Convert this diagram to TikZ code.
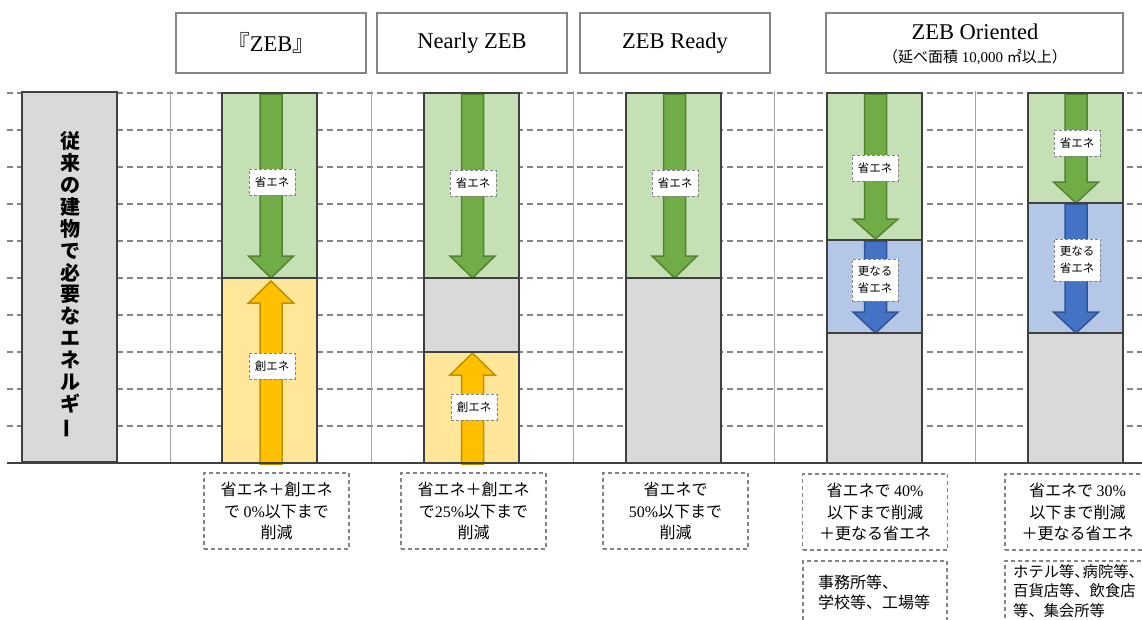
\documentclass[tikz,border=0pt]{standalone}
\usepackage{fontspec}
\usepackage{graphicx}
\setmainfont{Liberation Serif}
\newfontfamily\cjk{Noto Sans CJK JP}
\definecolor{gfill}{HTML}{C5E0B4}
\definecolor{garrow}{HTML}{70AD47}
\definecolor{gedge}{HTML}{548235}
\definecolor{yfill}{HTML}{FFE699}
\definecolor{yarrow}{HTML}{FFC000}
\definecolor{yedge}{HTML}{BF9000}
\definecolor{bfill}{HTML}{B4C7E7}
\definecolor{barrow}{HTML}{4472C4}
\definecolor{bedge}{HTML}{2F5597}
\definecolor{grayfill}{HTML}{D9D9D9}
\definecolor{darkline}{HTML}{404040}
\definecolor{midline}{HTML}{858585}
\definecolor{gridline}{HTML}{A6A6A6}
\newcommand{\blockarrow}[5]{%
  \draw[#1] ({#2-11},#3) -- ({#2+11},#3) -- ({#2+11},#5) -- ({#2+22.5},#5)
    -- (#2,#4) -- ({#2-22.5},#5) -- ({#2-11},#5) -- cycle;}
\tikzset{
  dashgrid/.style={draw=midline, line width=1.2pt, dash pattern=on 6pt off 4pt},
  vgrid/.style={draw=gridline, line width=1pt},
  barline/.style={draw=darkline, line width=2.5pt},
  hdr/.style={draw=midline, line width=2.5pt, fill=white, inner sep=0pt,
    font=\fontsize{22.5}{26}\selectfont},
  lbl/.style={draw=midline, dashed, dash pattern=on 3pt off 2pt, line width=1pt,
    fill=white, inner sep=1pt, minimum width=46pt, minimum height=26pt,
    align=center, font=\cjk\fontsize{11.5}{17}\selectfont},
  note/.style={draw=midline, line width=1.1pt, dash pattern=on 4pt off 3pt,
    inner sep=0pt, align=center, font=\cjk\fontsize{16}{21.5}\selectfont},
  notetext/.style={inner sep=0pt, align=left, anchor=west},
  gar/.style={fill=garrow, draw=gedge, line width=1.5pt},
  yar/.style={fill=yarrow, draw=yedge, line width=1.5pt},
  bar/.style={fill=barrow, draw=bedge, line width=1.5pt},
}
\begin{document}
\begin{tikzpicture}[x=1pt,y=-1pt]
\useasboundingbox (0,0) rectangle (1142,619);
\clip (0,0) rectangle (1142,619);
\fill[white] (0,0) rectangle (1142,619);

% grid
\foreach \y in {93,130,...,426} \draw[dashgrid] (7,\y) -- (1142,\y);
\foreach \x in {170,371,573,774,975} \draw[vgrid] (\x,91) -- (\x,463);

% headers
\node[hdr, minimum width=190pt, minimum height=60pt] (h1) at (271,43) {{\cjk 『}ZEB{\cjk 』}};
\node[hdr, minimum width=190pt, minimum height=60pt] (h2) at (472,43) {Nearly ZEB};
\node[hdr, minimum width=190pt, minimum height=60pt] (h3) at (675,43) {ZEB Ready};
\node[hdr, minimum width=297pt, minimum height=60pt] (h4) at (974.5,43) {};
\node[inner sep=0pt, font=\fontsize{22.5}{26}\selectfont] (h4a) at (975,32) {ZEB Oriented};
\node[inner sep=0pt, font=\fontsize{15}{18}\selectfont] (h4b) at (975,57) {{\cjk （延べ面積} 10,000 {\cjk ㎡以上）}};

% reference bar
\node[fill=grayfill, draw=darkline, line width=2.5pt, minimum width=95pt, minimum height=370pt, inner sep=0pt] (base) at (69.5,277) {};
\node[inner sep=0pt, align=center, font=\cjk\bfseries\fontsize{20}{21.9}\selectfont] (baset) at (70,285)
 {従\\来\\の\\建\\物\\で\\必\\要\\な\\エ\\ネ\\ル\\ギ\\\rotatebox[origin=c]{90}{ー}};

% bar fills
\fill[gfill] (222,93) rectangle (317,278);
\fill[yfill] (222,278) rectangle (317,463);
\fill[gfill] (424,93) rectangle (519,278);
\fill[grayfill] (424,278) rectangle (519,352);
\fill[yfill] (424,352) rectangle (519,463);
\fill[gfill] (626,93) rectangle (721,278);
\fill[grayfill] (626,278) rectangle (721,463);
\fill[gfill] (827,93) rectangle (922,240);
\fill[bfill] (827,240) rectangle (922,333);
\fill[grayfill] (827,333) rectangle (922,463);
\fill[gfill] (1028,93) rectangle (1123,203);
\fill[bfill] (1028,203) rectangle (1123,333);
\fill[grayfill] (1028,333) rectangle (1123,463);

% arrows
\blockarrow{gar}{271}{94}{278}{256}
\blockarrow{yar}{271}{464}{281}{303}
\blockarrow{gar}{472.5}{94}{278}{256}
\blockarrow{yar}{472.5}{464}{353}{375}
\blockarrow{gar}{674.5}{94}{278}{256}
\blockarrow{gar}{875.5}{94}{239}{219}
\blockarrow{bar}{875.5}{241}{333}{312}
\blockarrow{gar}{1076}{94}{203}{182}
\blockarrow{bar}{1076}{204}{333}{312}

% bar outlines
\draw[barline] (222,93) rectangle (317,463);
\draw[barline] (222,278) -- (317,278);
\draw[barline] (424,93) rectangle (519,463);
\draw[barline] (424,278) -- (519,278);
\draw[barline] (424,352) -- (519,352);
\draw[barline] (626,93) rectangle (721,463);
\draw[barline] (626,278) -- (721,278);
\draw[barline] (827,93) rectangle (922,463);
\draw[barline] (827,240) -- (922,240);
\draw[barline] (827,333) -- (922,333);
\draw[barline] (1028,93) rectangle (1123,463);
\draw[barline] (1028,203) -- (1123,203);
\draw[barline] (1028,333) -- (1123,333);

% baseline
\draw[barline] (7,463) -- (1142,463);

% arrow labels
\node[lbl] (l1a) at (272,182) {省エネ};
\node[lbl] (l1b) at (272,366) {創エネ};
\node[lbl] (l2a) at (473,183) {省エネ};
\node[lbl] (l2b) at (474,407) {創エネ};
\node[lbl] (l3a) at (675,183) {省エネ};
\node[lbl] (l4a) at (875,168) {省エネ};
\node[lbl, minimum height=42pt] (l4b) at (875,280) {更なる\\省エネ};
\node[lbl] (l5a) at (1077,143) {省エネ};
\node[lbl, minimum height=42pt] (l5b) at (1077,260) {更なる\\省エネ};

% notes
\node[note, minimum width=145pt, minimum height=76pt] (n1) at (276.5,511)
 {省エネ＋創エネ\\で {\rmfamily 0\%}以下まで\\削減};
\node[note, minimum width=145pt, minimum height=76pt] (n2) at (473.5,511)
 {省エネ＋創エネ\\で{\rmfamily 25\%}以下まで\\削減};
\node[note, minimum width=145pt, minimum height=76pt] (n3) at (675.5,511)
 {省エネで\\{\rmfamily 50\%}以下まで\\削減};
\node[note, minimum width=145pt, minimum height=76pt] (n4) at (875,512)
 {省エネで {\rmfamily 40\%}\\以下まで削減\\＋更なる省エネ};
\node[note, minimum width=145pt, minimum height=76pt] (n5) at (1077.5,512)
 {省エネで {\rmfamily 30\%}\\以下まで削減\\＋更なる省エネ};
\node[note, minimum width=144pt, minimum height=70pt] (n4b) at (875,596) {};
\node[note, minimum width=145pt, minimum height=70pt] (n5b) at (1077.5,596) {};
\node[notetext, font=\cjk\fontsize{16}{20}\selectfont] (t4b) at (818,592) {事務所等、\\学校等、工場等};
\node[notetext, font=\cjk\fontsize{15.3}{19.2}\selectfont] (t5b) at (1013,591) {ホテル等、\kern-7pt 病院等、\\百貨店等、飲食店\\等、集会所等};
\end{tikzpicture}
\end{document}
